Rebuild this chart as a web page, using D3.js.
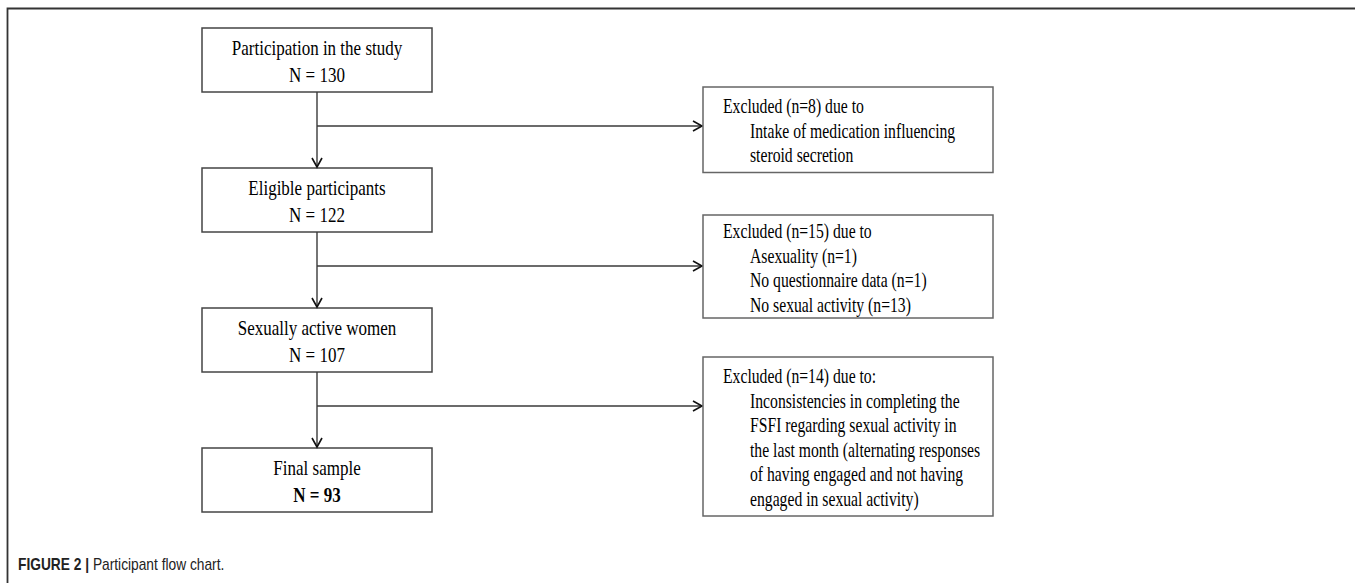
<!DOCTYPE html>
<html>
<head>
<meta charset="utf-8">
<script src="https://cdn.jsdelivr.net/npm/d3@7"></script>
<style>
  html, body { margin: 0; padding: 0; background: #fff; }
  svg { display: block; }
</style>
</head>
<body>
<script>
// ---- data ----
const stageLabels = ["Participation in the study", "Eligible participants", "Sexually active women", "Final sample"];
const stageCounts = [130, 122, 107, 93];
const excludedCounts = [8, 15, 14];
const excludedHeaders = ["Excluded (n=8) due to", "Excluded (n=15) due to", "Excluded (n=14) due to:"];
const excludedReasons = [
  ["Intake of medication influencing", "steroid secretion"],
  ["Asexuality (n=1)", "No questionnaire data (n=1)", "No sexual activity (n=13)"],
  ["Inconsistencies in completing the", "FSFI regarding sexual activity in", "the last month (alternating responses", "of having engaged and not having", "engaged in sexual activity)"]
];
const captionBold = "FIGURE 2 |";
const captionText = " Participant flow chart.";

// ---- layout ----
const W = 1355, H = 583;
const svg = d3.select("body").append("svg").attr("width", W).attr("height", H);

const serif = "'Liberation Serif', 'Times New Roman', serif";
const ink = "#000";
const lineCol = "#3a3a3a";

// frame (top and left only)
svg.append("path")
  .attr("d", d3.line()([[7.5, H], [7.5, 8.5], [W, 8.5]]))
  .attr("fill", "none").attr("stroke", "#333").attr("stroke-width", 1.8);

const yMain = d3.scaleLinear().domain([0, 3]).range([28, 448]);
const mainX0 = 202, mainX1 = 432, mainH = 64;
const cx = (mainX0 + mainX1) / 2;

const rightX0 = 703, rightX1 = 993;
const rightTops = [87, 215, 357];
const lineStep = 24.5;

function txt(g, x, y, s, size, anchor, weight, sx) {
  g.append("text")
    .attr("transform", `translate(${x},${y}) scale(${sx},1)`)
    .attr("text-anchor", anchor || "start")
    .attr("font-family", serif)
    .attr("font-size", size)
    .attr("font-weight", weight || "normal")
    .attr("fill", ink)
    .text(s);
}

function chevron(x, y, dir) {
  const d = dir === "down"
    ? [[x - 5, y - 9], [x, y], [x + 5, y - 9]]
    : [[x - 9, y - 5], [x, y], [x - 9, y + 5]];
  svg.append("path").attr("d", d3.line()(d))
    .attr("fill", "none").attr("stroke", "#111").attr("stroke-width", 1.6);
}

// main boxes
stageLabels.forEach((lab, i) => {
  const g = svg.append("g");
  const top = yMain(i);
  g.append("rect")
    .attr("x", mainX0).attr("y", top)
    .attr("width", mainX1 - mainX0).attr("height", mainH)
    .attr("fill", "#fff").attr("stroke", "#444").attr("stroke-width", 1.5);
  txt(g, cx, top + 27, lab, 21, "middle", "normal", 0.81);
  txt(g, cx, top + 54, "N = " + stageCounts[i], 21, "middle", i === stageLabels.length - 1 ? "bold" : "normal", 0.81);
});

// connectors and exclusion boxes
excludedCounts.forEach((n, i) => {
  const y0 = yMain(i) + mainH, y1 = yMain(i + 1);
  svg.append("line").attr("x1", cx).attr("x2", cx).attr("y1", y0).attr("y2", y1 - 1)
    .attr("stroke", lineCol).attr("stroke-width", 1.4);
  chevron(cx, y1 - 1, "down");

  const ay = y0 + 34;
  svg.append("line").attr("x1", cx).attr("x2", rightX0 - 1).attr("y1", ay).attr("y2", ay)
    .attr("stroke", lineCol).attr("stroke-width", 1.4);
  chevron(rightX0 - 1, ay, "right");

  const lines = [excludedHeaders[i]].concat(excludedReasons[i]);
  const top = rightTops[i];
  const h = lines.length * lineStep + (i === 1 ? 5 : 12);
  const g = svg.append("g");
  g.append("rect")
    .attr("x", rightX0).attr("y", top)
    .attr("width", rightX1 - rightX0).attr("height", h)
    .attr("fill", "#fff").attr("stroke", "#666").attr("stroke-width", 1.5);
  lines.forEach((s, j) => {
    txt(g, j === 0 ? rightX0 + 20 : rightX0 + 47, top + (i === 1 ? 23 : 26) + j * lineStep, s, 20, "start", "normal", 0.785);
  });
});

// caption
const cap = svg.append("text")
  .attr("transform", `translate(18,570) scale(0.86,1)`)
  .attr("font-family", "'Liberation Sans', Arial, sans-serif")
  .attr("font-size", 16).attr("fill", "#222");
cap.append("tspan").attr("font-weight", "bold").text(captionBold);
cap.append("tspan").text(captionText);
</script>
</body>
</html>
